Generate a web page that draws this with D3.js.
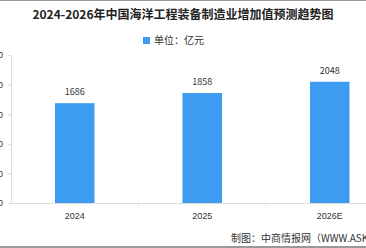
<!DOCTYPE html>
<html lang="zh">
<head>
  <meta charset="UTF-8">
  <title>2024-2026年中国海洋工程装备制造业增加值预测趋势图</title>
  <script src="https://d3js.org/d3.v7.min.js"></script>
  <style>
    body { margin: 0; background: #fff; }
    svg { display: block; font-family: "Noto Sans CJK SC", "DejaVu Sans", sans-serif; }
  </style>
</head>
<body>
  <div id="chart"></div>
  <script>
    const years = ["2024", "2025", "2026E"];
    const values = [1686, 1858, 2048];
    const yTicks = [0, 500, 1000, 1500, 2000, 2500];

    const W = 366, H = 248;
    const plotLeft = 11, plotBottom = 203, plotTop = 55;

    const svg = d3.select("#chart").append("svg")
      .attr("width", W)
      .attr("height", H);

    // frame lines top and bottom
    svg.append("line").attr("x1", 0).attr("x2", W).attr("y1", 0.5).attr("y2", 0.5)
      .attr("stroke", "#999");
    svg.append("line").attr("x1", 0).attr("x2", W).attr("y1", 247).attr("y2", 247)
      .attr("stroke", "#999").attr("stroke-width", 2);

    svg.append("text")
      .attr("x", W / 2).attr("y", 19)
      .attr("text-anchor", "middle")
      .attr("font-size", "12px")
      .attr("font-weight", "bold")
      .attr("fill", "#222")
      .text("2024-2026年中国海洋工程装备制造业增加值预测趋势图");

    // legend
    svg.append("rect").attr("x", 143).attr("y", 37).attr("width", 7).attr("height", 7)
      .attr("fill", "#3d9bf2");
    svg.append("text").attr("x", 154).attr("y", 44)
      .attr("font-size", "10px").attr("fill", "#333")
      .text("单位：亿元");

    const x = d3.scaleBand().domain(years).range([plotLeft, plotLeft + 127.5 * 3]);
    const y = d3.scaleLinear().domain([0, 2500]).range([plotBottom, plotTop]);

    const yAxis = svg.append("g")
      .attr("transform", `translate(${plotLeft},0)`)
      .call(d3.axisLeft(y).tickValues(yTicks).tickSize(3).tickPadding(5));
    yAxis.selectAll("path, line").attr("stroke", "#ddd");
    yAxis.selectAll("text").attr("fill", "#333").attr("font-size", "9px");

    const xAxis = svg.append("g")
      .attr("transform", `translate(0,${plotBottom})`)
      .call(d3.axisBottom(x).tickSize(0).tickPadding(10));
    xAxis.select("path").attr("stroke", "#ddd");
    xAxis.selectAll("text").attr("fill", "#333").attr("font-size", "9px");

    // separators between categories
    svg.selectAll(".sep")
      .data(years.slice(1))
      .enter().append("line")
      .attr("x1", d => x(d)).attr("x2", d => x(d))
      .attr("y1", plotBottom).attr("y2", plotBottom + 3)
      .attr("stroke", "#ddd");

    const bw = x.bandwidth() * 0.31;
    svg.selectAll(".bar")
      .data(values)
      .enter().append("rect")
      .attr("class", "bar")
      .attr("x", (d, i) => x(years[i]) + x.bandwidth() / 2 - bw / 2)
      .attr("y", d => y(d))
      .attr("width", bw)
      .attr("height", d => plotBottom - y(d))
      .attr("fill", "#3d9bf2");

    svg.selectAll(".val")
      .data(values)
      .enter().append("text")
      .attr("x", (d, i) => x(years[i]) + x.bandwidth() / 2)
      .attr("y", d => y(d) - 8)
      .attr("text-anchor", "middle")
      .attr("font-size", "9px")
      .attr("fill", "#333")
      .text(d => d);

    svg.append("text")
      .attr("x", 231).attr("y", 242)
      .attr("font-size", "10px")
      .attr("fill", "#333")
      .text("制图：中商情报网（WWW.ASKCI.COM）");
  </script>
</body>
</html>
